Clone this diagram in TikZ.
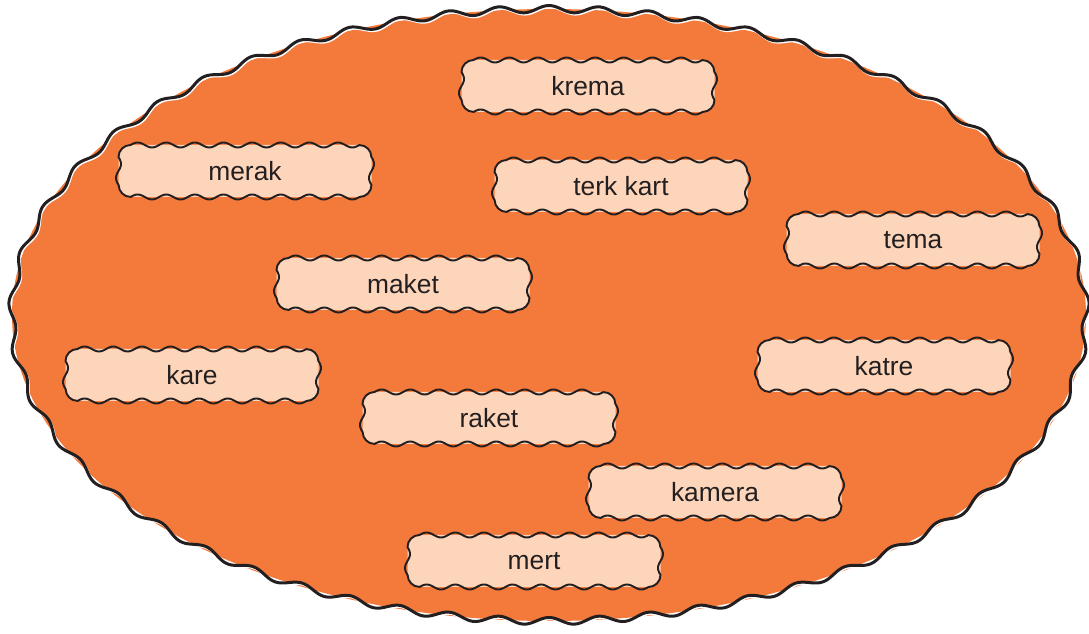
\documentclass[tikz,border=0pt]{standalone}
\usepackage{fontspec}
\setmainfont{Liberation Sans}

\definecolor{orng}{HTML}{F47A3C}
\definecolor{peach}{HTML}{FDD5BA}
\definecolor{ink}{HTML}{231F20}

\tikzset{
  word/.style={fill=peach,rounded corners=0.24cm,minimum width=5.06cm,minimum height=1.04cm,
    text=ink,font=\fontsize{15}{18}\selectfont},
  boxline/.style={draw=ink,line width=1.1pt,line join=round}
}

\begin{document}
\begin{tikzpicture}[declare function={ph(\t)=53*mod(\t,6.79245)-416*sin(2*\t);
    nn(\t)=sqrt((6.12*cos(\t))^2+(10.74*sin(\t))^2);}]
\useasboundingbox (0,0) rectangle (21.78,-12.68);
\fill[orng] (10.98,-6.30) ellipse [x radius=10.74, y radius=6.12];
% wavy rim, white shadow first
\draw[white,line width=1.4pt,shift={(0.02,-0.03)}] plot[domain=0:360,samples=1061]
  ({10.98+10.74*cos(\x)+0.07*sin(ph(\x))*6.12*cos(\x)/nn(\x)},{-6.30+6.12*sin(\x)+0.07*sin(ph(\x))*10.74*sin(\x)/nn(\x)}) -- cycle;
\draw[ink,line width=1.7pt] plot[domain=0:360,samples=1061]
  ({10.98+10.74*cos(\x)+0.07*sin(ph(\x))*6.12*cos(\x)/nn(\x)},{-6.30+6.12*sin(\x)+0.07*sin(ph(\x))*10.74*sin(\x)/nn(\x)}) -- cycle;

\node[word] (krema) at (11.76,-1.72) {krema};
\node[word] (merak) at (4.90,-3.42) {merak};
\node[word] (terkkart) at (12.42,-3.72) {terk kart};
\node[word] (tema) at (18.26,-4.80) {tema};
\node[word] (maket) at (8.06,-5.68) {maket};
\node[word] (kare) at (3.84,-7.50) {kare};
\node[word] (katre) at (17.68,-7.32) {katre};
\node[word] (raket) at (9.78,-8.36) {raket};
\node[word] (kamera) at (14.30,-9.84) {kamera};
\node[word] (mert) at (10.68,-11.22) {mert};

% wavy outlines of the words
\foreach \n in {krema,merak,terkkart,tema,maket,kare,katre,raket,kamera,mert}{
  \begin{scope}[shift={(\n.center)}]
  \draw[boxline] (-2.29,0.52) -- plot[domain=-2.29:2.29,samples=161] (\x,{0.52+0.05*sin((\x+2.29)*628.82)})
    arc[start angle=90,end angle=0,radius=0.24]
    -- plot[domain=0.28:-0.28,samples=31] ({2.53+0.05*sin((0.28-\x)*642.86)},\x)
    arc[start angle=0,end angle=-90,radius=0.24]
    -- plot[domain=2.29:-2.29,samples=161] (\x,{-0.52-0.05*sin((2.29-\x)*628.82)})
    arc[start angle=-90,end angle=-180,radius=0.24]
    -- plot[domain=-0.28:0.28,samples=31] ({-2.53-0.05*sin((\x+0.28)*642.86)},\x)
    arc[start angle=180,end angle=90,radius=0.24] -- cycle;
  \end{scope}
}
\end{tikzpicture}
\end{document}
